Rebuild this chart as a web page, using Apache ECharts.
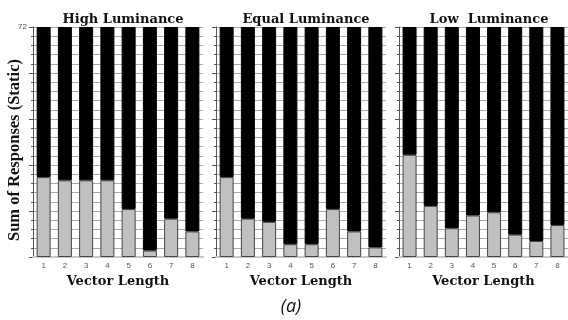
<!DOCTYPE html>
<html>
<head>
<meta charset="utf-8">
<script src="https://cdn.jsdelivr.net/npm/echarts@6/dist/echarts.min.js"></script>
<style>html,body{margin:0;padding:0;background:#fff;}#c{width:568px;height:320px;}</style>
</head>
<body>
<div id="c"></div>
<script>
var categories = ['1','2','3','4','5','6','7','8'];
var panelTitles = ['High Luminance', 'Equal Luminance', 'Low  Luminance'];
var highGray = [25, 24, 24, 24, 15, 2, 12, 8];
var highBlack = [47, 48, 48, 48, 57, 70, 60, 64];
var equalGray = [25, 12, 11, 4, 4, 15, 8, 3];
var equalBlack = [47, 60, 61, 68, 68, 57, 64, 69];
var lowGray = [32, 16, 9, 13, 14, 7, 5, 10];
var lowBlack = [40, 56, 63, 59, 58, 65, 67, 62];
var yMax = 72;
var yTickLabels = ['72'];
var xName = 'Vector Length';
var yName = 'Sum of Responses (Static)';
var caption = '(a)';

var grayData = [highGray, equalGray, lowGray];
var blackData = [highBlack, equalBlack, lowBlack];
var lefts = [33, 216, 399];
var pw = 170;

var grids = [], xAxes = [], yAxes = [], series = [], titles = [];
for (var i = 0; i < 3; i++) {
  grids.push({left: lefts[i], top: 27, width: pw, height: 230});
  titles.push({
    text: panelTitles[i], left: lefts[i] + pw / 2, top: 8, textAlign: 'center',
    textStyle: {fontFamily: 'DejaVu Serif', fontWeight: 'bold', fontSize: 13, color: '#111'}
  });
  xAxes.push({
    type: 'category', gridIndex: i, data: categories,
    axisLine: {show: true, lineStyle: {color: '#c8c8c8', width: 2}},
    axisTick: {show: false},
    axisLabel: {fontSize: 8, color: '#555', fontFamily: 'Liberation Sans', margin: 5},
    name: xName, nameLocation: 'middle', nameGap: 17,
    nameTextStyle: {fontFamily: 'DejaVu Serif', fontWeight: 'bold', fontSize: 13, color: '#111'},
    z: 1
  });
  yAxes.push({
    type: 'value', gridIndex: i, min: 0, max: yMax, interval: 14.4,
    axisLine: {show: true, lineStyle: {color: '#555', width: 1}},
    axisTick: {show: true, length: 4, lineStyle: {color: '#555'}},
    minorTick: {show: true, splitNumber: 5, length: 2, lineStyle: {color: '#555'}},
    splitLine: {show: true, lineStyle: {color: '#aaa', width: 1}},
    minorSplitLine: {show: true, lineStyle: {color: '#aaa', width: 1}},
    axisLabel: {
      show: i === 0, fontSize: 8, color: '#555', fontFamily: 'Liberation Sans', margin: 6,
      formatter: function (v) { return yTickLabels.indexOf(String(v)) >= 0 ? String(v) : ''; }
    }
  });
  series.push({
    type: 'bar', xAxisIndex: i, yAxisIndex: i, stack: 's' + i, data: grayData[i],
    barWidth: 14, itemStyle: {color: '#c0c0c0', borderColor: '#444', borderWidth: 1}, z: 3
  });
  series.push({
    type: 'bar', xAxisIndex: i, yAxisIndex: i, stack: 's' + i, data: blackData[i],
    barWidth: 14, itemStyle: {color: '#000', borderColor: '#000', borderWidth: 1}, z: 3
  });
}

var chart = echarts.init(document.getElementById('c'), null, {renderer: 'canvas'});
chart.setOption({
  animation: false,
  backgroundColor: '#fff',
  title: titles,
  grid: grids,
  xAxis: xAxes,
  yAxis: yAxes,
  series: series,
  graphic: [
    {type: 'text', x: 15, y: 150, rotation: Math.PI / 2,
     style: {text: yName, fontFamily: 'Liberation Serif', fontWeight: 'bold', fontSize: 16.5,
             fill: '#111', align: 'center', verticalAlign: 'middle'}},
    {type: 'text', x: 291, y: 307,
     style: {text: caption, fontFamily: 'Open Sans', fontStyle: 'italic', fontSize: 18,
             fill: '#111', align: 'center', verticalAlign: 'middle'}}
  ]
});
</script>
</body>
</html>
